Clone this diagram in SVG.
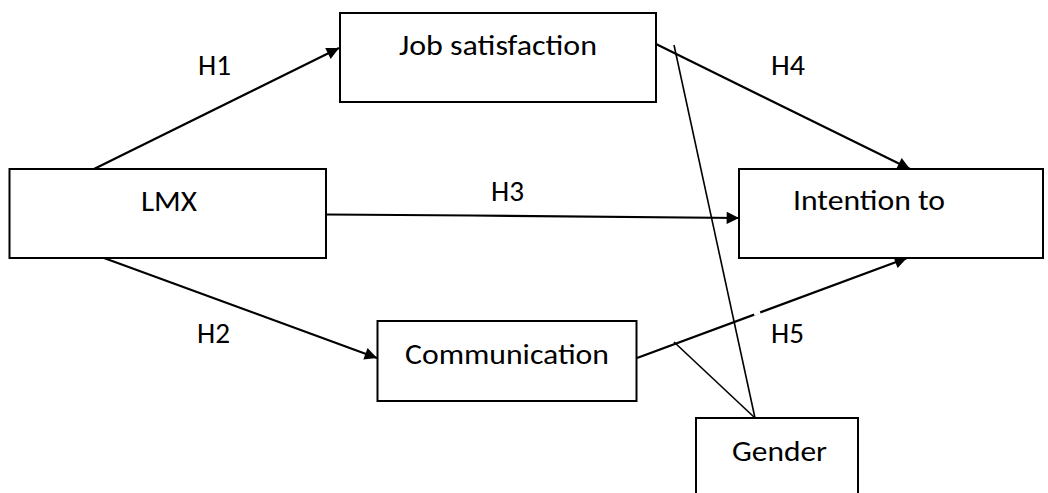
<svg xmlns="http://www.w3.org/2000/svg" width="1048" height="493" viewBox="0 0 1048 493">
  <style>
    .box { fill: #ffffff; stroke: #000000; stroke-width: 2; }
    .lbl { font-family: Carlito, Lato, "Liberation Sans", sans-serif; font-size: 28px; fill: #000000; }
    .arr { fill: none; stroke: #000000; stroke-width: 2.2; }
    .mod { fill: none; stroke: #000000; stroke-width: 1.6; }
    .gap { stroke: #ffffff; stroke-width: 4; }
  </style>
  <defs>
    <marker id="ah" viewBox="0 0 10 10" refX="10" refY="5" markerWidth="7.2" markerHeight="5.6" markerUnits="strokeWidth" orient="auto">
      <path d="M0,0 L10,5 L0,10 Z" fill="#000000"/>
    </marker>
  </defs>
  <rect width="1048" height="493" fill="#ffffff"/>

  <g id="connectors">
    <line id="h1" class="arr" x1="94" y1="169" x2="339" y2="48" marker-end="url(#ah)"/>
    <line id="h2" class="arr" x1="104" y1="258" x2="377" y2="358" marker-end="url(#ah)"/>
    <polyline id="h3" class="arr" points="326,214.5 472,215.5 739,218" marker-end="url(#ah)"/>
    <line id="h4" class="arr" x1="656" y1="44" x2="910" y2="169" marker-end="url(#ah)"/>
    <line id="h5" class="arr" x1="637" y1="358" x2="907" y2="258" marker-end="url(#ah)"/>
    <line class="gap" x1="243" y1="91" x2="253" y2="86"/>
    <line class="gap" x1="754" y1="314" x2="760" y2="311.8"/>
    <line id="gender-a" class="mod" x1="674" y1="45" x2="755" y2="418"/>
    <line id="gender-b" class="mod" x1="755" y1="418" x2="674" y2="342"/>
  </g>

  <g id="node-jobsat">
    <rect class="box" x="340" y="13" width="316" height="89"/>
    <text class="lbl" x="399" y="54.5" textLength="198" lengthAdjust="spacingAndGlyphs">Job satisfaction</text>
  </g>
  <g id="node-lmx">
    <rect class="box" x="9.5" y="169" width="316.5" height="89"/>
    <text class="lbl" x="141" y="211" textLength="56" lengthAdjust="spacingAndGlyphs">LMX</text>
  </g>
  <g id="node-intention">
    <rect class="box" x="739" y="169" width="304" height="89"/>
    <text class="lbl" x="793" y="210" textLength="152" lengthAdjust="spacingAndGlyphs">Intention to</text>
  </g>
  <g id="node-communication">
    <rect class="box" x="377.5" y="321" width="259" height="80"/>
    <text class="lbl" x="405" y="363.5" textLength="204" lengthAdjust="spacingAndGlyphs">Communication</text>
  </g>
  <g id="node-gender">
    <path class="box" d="M696,500 V418 H858 V500"/>
    <text class="lbl" x="732" y="461" textLength="95" lengthAdjust="spacingAndGlyphs">Gender</text>
  </g>

  <g id="labels">
    <text class="lbl" x="198" y="75" textLength="33" lengthAdjust="spacingAndGlyphs">H1</text>
    <text class="lbl" x="197" y="343" textLength="33" lengthAdjust="spacingAndGlyphs">H2</text>
    <text class="lbl" x="491" y="201" textLength="33" lengthAdjust="spacingAndGlyphs">H3</text>
    <text class="lbl" x="771" y="75" textLength="34" lengthAdjust="spacingAndGlyphs">H4</text>
    <text class="lbl" x="771" y="343" textLength="33" lengthAdjust="spacingAndGlyphs">H5</text>
  </g>
</svg>
